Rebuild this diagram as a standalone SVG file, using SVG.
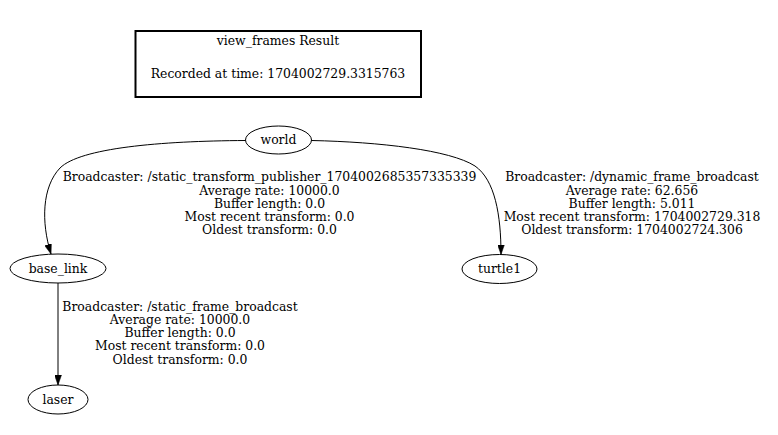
<svg xmlns="http://www.w3.org/2000/svg" width="778" height="435" viewBox="0 0 778 435">
<style>
  text { font-family: "DejaVu Serif", "Liberation Serif", serif; font-size: 12.4px; fill: #000; text-anchor: middle; }
  .node ellipse { fill: none; stroke: #000; stroke-width: 1; }
  .edge path { fill: none; stroke: #000; stroke-width: 1; }
  .title rect { fill: none; stroke: #000; stroke-width: 2; }
</style>
<defs>
  <marker id="arrow" viewBox="0 0 10 7" refX="10" refY="3.5" markerWidth="10" markerHeight="7" markerUnits="userSpaceOnUse" orient="auto">
    <path d="M0,0 L10,3.5 L0,7 Z" fill="#000" stroke="#000" stroke-width="0.5"/>
  </marker>
</defs>
<rect width="778" height="435" fill="#fff"/>
<g id="title" class="title">
  <rect x="135.5" y="31" width="285.5" height="66"/>
  <text x="278" y="45">view_frames Result</text>
  <text x="278" y="78">Recorded at time: 1704002729.3315763</text>
</g>
<g id="connectors" class="edge">
  <g id="edge-world-base_link">
    <path d="M245.5,140.5 C160,141 80,148 60,168 C42,187 41,222 51,254" marker-end="url(#arrow)"/>
    <text x="269.5" y="181.3">Broadcaster: /static_transform_publisher_1704002685357335339<tspan x="269.5" dy="13.2">Average rate: 10000.0</tspan><tspan x="269.5" dy="13.2">Buffer length: 0.0</tspan><tspan x="269.5" dy="13.2">Most recent transform: 0.0</tspan><tspan x="269.5" dy="13.2">Oldest transform: 0.0</tspan></text>
  </g>
  <g id="edge-world-turtle1">
    <path d="M311.5,140.5 C380,142 450,150 475,166 C495,180 501,215 501,254.5" marker-end="url(#arrow)"/>
    <text x="632" y="181.3">Broadcaster: /dynamic_frame_broadcast<tspan x="632" dy="13.2">Average rate: 62.656</tspan><tspan x="632" dy="13.2">Buffer length: 5.011</tspan><tspan x="632" dy="13.2">Most recent transform: 1704002729.318</tspan><tspan x="632" dy="13.2">Oldest transform: 1704002724.306</tspan></text>
  </g>
  <g id="edge-base_link-laser">
    <path d="M58,283 L58,385" marker-end="url(#arrow)"/>
    <text x="180" y="310.7">Broadcaster: /static_frame_broadcast<tspan x="180" dy="13.2">Average rate: 10000.0</tspan><tspan x="180" dy="13.2">Buffer length: 0.0</tspan><tspan x="180" dy="13.2">Most recent transform: 0.0</tspan><tspan x="180" dy="13.2">Oldest transform: 0.0</tspan></text>
  </g>
</g>
<g id="node-world" class="node">
  <ellipse cx="278.5" cy="140" rx="33" ry="14"/>
  <text x="278.5" y="143.5">world</text>
</g>
<g id="node-base_link" class="node">
  <ellipse cx="58" cy="268.5" rx="48" ry="14.5"/>
  <text x="58" y="272.5">base_link</text>
</g>
<g id="node-turtle1" class="node">
  <ellipse cx="499.5" cy="269" rx="37.5" ry="14.5"/>
  <text x="499.5" y="273">turtle1</text>
</g>
<g id="node-laser" class="node">
  <ellipse cx="58" cy="399.5" rx="30" ry="14.5"/>
  <text x="58" y="403.5">laser</text>
</g>
</svg>
